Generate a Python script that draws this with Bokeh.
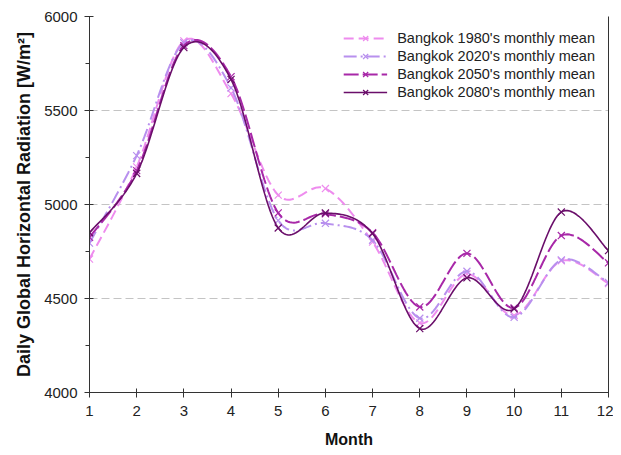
import numpy as np
from bokeh.plotting import figure
from bokeh.models import (LinearAxis, FixedTicker, SingleIntervalTicker, Range1d,
                          Legend, LegendItem)
from bokeh.embed import file_html
from bokeh.resources import INLINE

months = [1, 2, 3, 4, 5, 6, 7, 8, 9, 10, 11, 12]
r1980 = [4710, 5200, 5870, 5590, 5050, 5085, 4800, 4370, 4630, 4410, 4700, 4580]
r2020 = [4795, 5260, 5860, 5620, 4915, 4900, 4810, 4395, 4645, 4400, 4705, 4585]
r2050 = [4825, 5180, 5845, 5680, 4955, 4950, 4850, 4455, 4740, 4450, 4835, 4690]
r2080 = [4850, 5165, 5835, 5665, 4875, 4955, 4845, 4340, 4610, 4445, 4960, 4755]

labels = ["Bangkok 1980's monthly mean", "Bangkok 2020's monthly mean",
          "Bangkok 2050's monthly mean", "Bangkok 2080's monthly mean"]
colors = ["#EE8CEE", "#B890EE", "#A828A8", "#6A0E6A"]
dashes = ["10 5", "13 4 2 4", "15 4", "solid"]
widths = [2, 2, 2, 1.6]


def smooth(xs, ys, n=24):
    """Catmull-Rom curve through the points (drawing style of a smoothed line)."""
    P = np.column_stack([xs, ys]).astype(float)
    P = np.vstack([P[0], P, P[-1]])
    out = []
    t = np.linspace(0, 1, n, endpoint=False)
    for i in range(1, len(P) - 2):
        p0, p1, p2, p3 = P[i - 1], P[i], P[i + 1], P[i + 2]
        m1 = (p2 - p0) / 2
        m2 = (p3 - p1) / 2
        h00 = 2 * t**3 - 3 * t**2 + 1
        h10 = t**3 - 2 * t**2 + t
        h01 = -2 * t**3 + 3 * t**2
        h11 = t**3 - t**2
        seg = (np.outer(h00, p1) + np.outer(h10, m1) + np.outer(h01, p2) + np.outer(h11, m2))
        out.append(seg)
    out.append(P[-2][None, :])
    pts = np.vstack(out)
    return pts[:, 0], pts[:, 1]


p = figure(width=613, height=452, output_backend="svg", toolbar_location=None,
           x_range=Range1d(1, 12), y_range=Range1d(4000, 6000),
           min_border_left=89, min_border_right=5, min_border_top=16, min_border_bottom=60)
p.outline_line_color = None
p.background_fill_color = "white"

items = []
for ys, lab, c, d, w in zip([r1980, r2020, r2050, r2080], labels, colors, dashes, widths):
    sx, sy = smooth(months, ys)
    ln = p.line(sx, sy, line_color=c, line_width=w, line_dash=d)
    sc = p.scatter(months, ys, marker="x", size=10, line_color=c, line_width=1.2)
    items.append(LegendItem(label=lab, renderers=[ln, sc]))

font = "Liberation Sans"
xa = p.xaxis[0]
xa.ticker = SingleIntervalTicker(interval=1, num_minor_ticks=0)
ya = p.yaxis[0]
ya.ticker = SingleIntervalTicker(interval=500, num_minor_ticks=2)
for ax in (xa, ya):
    ax.axis_line_color = "#333333"
    ax.major_tick_line_color = "#333333"
    ax.minor_tick_line_color = "#333333"
    ax.major_tick_in = 4
    ax.major_tick_out = 5
    ax.minor_tick_in = 0
    ax.minor_tick_out = 4
    ax.major_label_text_font = font
    ax.major_label_text_font_size = "15px"
    ax.major_label_text_color = "#222222"
    ax.axis_label_text_font = font
    ax.axis_label_text_font_style = "bold"
    ax.axis_label_text_color = "#111111"
xa.axis_label = "Month"
xa.axis_label_text_font_size = "16px"
xa.major_label_standoff = 8
xa.axis_label_standoff = 12
ya.axis_label = "Daily Global Horizontal Radiation [W/m\u00b2]"
ya.axis_label_text_font_size = "18px"
ya.major_label_standoff = 7
ya.axis_label_standoff = 7

right = LinearAxis(ticker=FixedTicker(ticks=[]), major_label_text_font_size="0px",
                   major_tick_line_color=None, minor_tick_line_color=None,
                   axis_line_color="#333333")
p.add_layout(right, "right")

p.xgrid.grid_line_color = None
p.ygrid.ticker = FixedTicker(ticks=[4500, 5000, 5500])
p.ygrid.grid_line_color = "#c4c4c4"
p.ygrid.grid_line_dash = "8 4"
p.ygrid.grid_line_width = 1

legend = Legend(items=items, location="top_right")
legend.border_line_color = None
legend.background_fill_alpha = 0
legend.label_text_font = font
legend.label_text_font_size = "14.5px"
legend.label_text_color = "#222222"
legend.spacing = 0
legend.label_height = 18
legend.glyph_height = 18
legend.glyph_width = 44
legend.label_standoff = 10
legend.padding = 4
legend.margin = 13
p.add_layout(legend)

open("out.html", "w").write(file_html(p, INLINE))
